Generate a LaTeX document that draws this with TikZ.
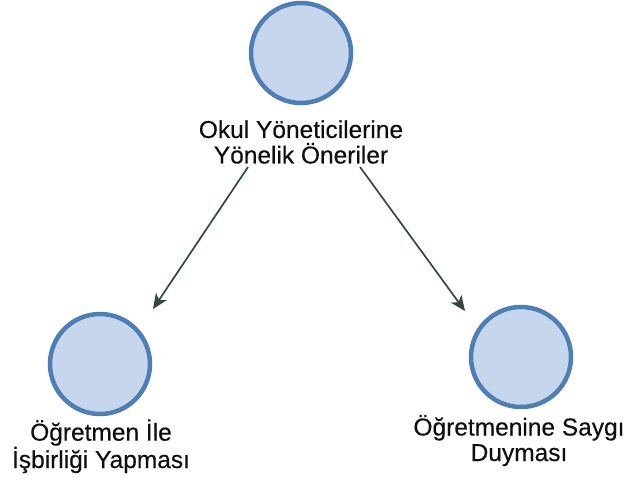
\documentclass[tikz,border=0pt]{standalone}
\usepackage{fontspec}
\setmainfont{Liberation Sans}
\newfontfamily\captionface{Liberation Sans}[FakeBold=0.3]
\usetikzlibrary{arrows.meta}
\definecolor{ringblue}{RGB}{79,126,181}
\definecolor{discfill}{RGB}{198,214,236}
\definecolor{arrowgray}{RGB}{52,72,68}
\definecolor{labeltext}{RGB}{15,15,15}
\tikzset{
  concept/.style={circle, draw=ringblue, fill=discfill, line width=4.5pt,
    minimum size=100pt, inner sep=0pt},
  caption/.style={align=center, text=labeltext, inner sep=0pt,
    font=\captionface\fontsize{24.5}{25.5}\selectfont},
  link/.style={draw=arrowgray, line width=1.7pt,
    -{Stealth[length=15pt, width=13pt, inset=4pt]}}
}
\begin{document}
\begin{tikzpicture}[x=1pt, y=-1pt]
  \useasboundingbox (0,0) rectangle (628,481);
  % concept discs
  \node[concept] (root)  at (301,53)  {};
  \node[concept] (left)  at (100,364) {};
  \node[concept] (right) at (521,357) {};
  % captions (base anchor sits on the last line)
  \node[caption, anchor=base] (rootlbl)  at (301,163.5) {Okul Yöneticilerine\\Yönelik Öneriler};
  \node[caption, anchor=base] (leftlbl)  at (101,468) {Öğretmen İle\\İşbirliği Yapması};
  \node[caption, anchor=base] (rightlbl) at (519,461) {Öğretmenine Saygı\\Duyması};
  % connector end points
  \coordinate (rootL) at (248,167);
  \coordinate (rootR) at (360,167);
  \coordinate (leftTip) at (153,309);
  \coordinate (rightTip) at (465,311);
  \draw[link] (rootL) -- (leftTip);
  \draw[link] (rootR) -- (rightTip);
\end{tikzpicture}
\end{document}
